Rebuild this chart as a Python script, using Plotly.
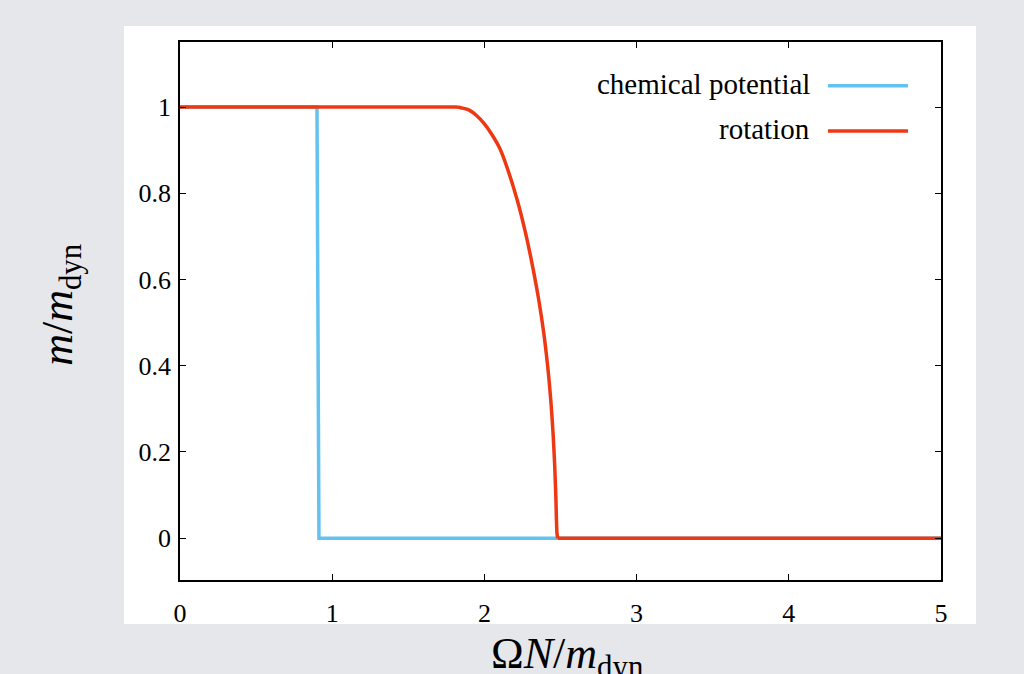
import plotly.graph_objects as go

# Data
chem_x = [0, 0.90, 0.913, 5.0]
chem_y = [1, 1, 0, 0]

rot_x = [0, 1.82, 1.851, 1.90, 1.95, 2.00, 2.048, 2.10, 2.147, 2.216, 2.271, 2.317, 2.357,
         2.390, 2.416, 2.436, 2.451, 2.462, 2.470, 2.477, 2.482, 5.0]
rot_y = [1, 1, 0.998, 0.993, 0.980, 0.961, 0.937, 0.905, 0.862, 0.784, 0.707, 0.630, 0.553,
         0.476, 0.398, 0.321, 0.244, 0.167, 0.089, 0.011, 0, 0]

series_names = ["chemical potential", "rotation"]
series_colors = ["#63c3ee", "#ee3814"]

x_ticks = [0, 1, 2, 3, 4, 5]
y_ticks = [0, 0.2, 0.4, 0.6, 0.8, 1]
y_ticklabels = ["0", "0.2", "0.4", "0.6", "0.8", "1"]

FONT = "Times New Roman, Liberation Serif, DejaVu Serif, serif"

fig = go.Figure()
fig.add_trace(go.Scatter(x=chem_x, y=chem_y, mode="lines", name=series_names[0],
                         line=dict(color=series_colors[0], width=3.5), showlegend=False))
# rotation series: flat parts straight, the bend smoothed
fig.add_trace(go.Scatter(x=rot_x[:2], y=rot_y[:2], mode="lines", name=series_names[1],
                         line=dict(color=series_colors[1], width=3.5), showlegend=False))
fig.add_trace(go.Scatter(x=rot_x[1:-1], y=rot_y[1:-1], mode="lines", name=series_names[1],
                         line=dict(color=series_colors[1], width=3.5, shape="spline", smoothing=0.8),
                         showlegend=False))
fig.add_trace(go.Scatter(x=rot_x[-2:], y=rot_y[-2:], mode="lines", name=series_names[1],
                         line=dict(color=series_colors[1], width=3.5), showlegend=False))

axis_common = dict(showline=True, linecolor="black", linewidth=1.8, mirror="ticks",
                   ticks="inside", ticklen=6, tickwidth=1, tickcolor="black",
                   showgrid=False, zeroline=False,
                   tickfont=dict(family=FONT, size=26, color="black"))

fig.update_xaxes(range=[0, 5], tickvals=x_ticks, ticklabelstandoff=9, **axis_common)
fig.update_yaxes(range=[-0.097, 1.151], tickvals=y_ticks, ticktext=y_ticklabels,
                 ticklabelstandoff=2, **axis_common)

# white panel behind the chart
fig.add_shape(type="rect", xref="paper", yref="paper", x0=-0.0736, x1=1.046, y0=-0.0818, y1=1.0297,
              fillcolor="white", line=dict(width=0), layer="below")

# custom legend (text to the left of the line sample)
leg_y = [0.9188, 0.8346]
for name, color, yy in zip(series_names, series_colors, leg_y):
    fig.add_annotation(xref="paper", yref="paper", x=0.831, y=yy + 0.004, text=name, showarrow=False,
                       xanchor="right", yanchor="middle", font=dict(family=FONT, size=29, color="black"))
    fig.add_shape(type="line", xref="paper", yref="paper", x0=0.8515, x1=0.9566, y0=yy, y1=yy,
                  line=dict(color=color, width=3.5))

# axis titles
fig.add_annotation(xref="paper", yref="paper", x=-0.158, y=0.511,
                   text="<i>m</i>/<i>m</i><sub>dyn</sub>", showarrow=False, textangle=-90,
                   xanchor="center", yanchor="middle", font=dict(family=FONT, size=44, color="black"))
fig.add_annotation(xref="paper", yref="paper", x=0.508, y=-0.1426,
                   text="Ω<i>N</i>/<i>m</i><sub>dyn</sub>", showarrow=False,
                   xanchor="center", yanchor="middle", font=dict(family=FONT, size=44, color="black"))

fig.update_layout(width=1024, height=674, margin=dict(l=180, r=83, t=42, b=94),
                  paper_bgcolor="#e5e7eb", plot_bgcolor="white")

fig.write_html("out.html", config={"displayModeBar": False},
               post_script="document.body.style.margin='0px';document.body.style.background='#e5e7eb';")
